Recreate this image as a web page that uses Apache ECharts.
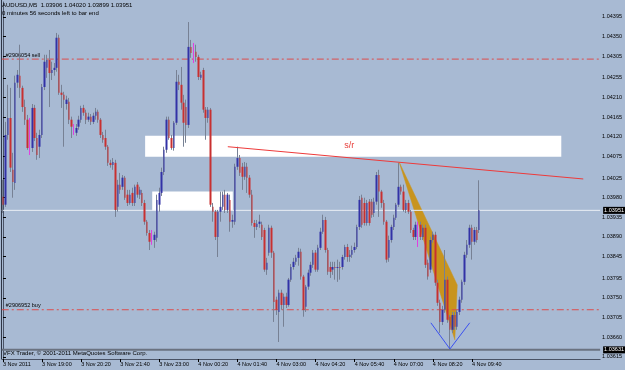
<!DOCTYPE html>
<html>
<head>
<meta charset="utf-8">
<title>AUDUSD,M5</title>
<script src="https://cdn.jsdelivr.net/npm/echarts@6/dist/echarts.min.js"></script>
<style>
    html, body { margin: 0; padding: 0; background: #a8bad3; }
    #main { width: 625px; height: 370px; }
</style>
</head>
<body>
<div id="main"></div>
<script>
// AUDUSD M5 - MetaTrader style chart

var symbolTitle = 'AUDUSD,M5  1.03906 1.04020 1.03899 1.03951';
var timerText = '0 minutes 56 seconds left to bar end';
var copyrightText = 'VFX Trader, \u00a9 2001-2011 MetaQuotes Software Corp.';

// time axis: one label every 16 bars (80 min)
var xTickLabels = ['3 Nov 2011', '3 Nov 19:00', '3 Nov 20:20', '3 Nov 21:40', '3 Nov 23:00',
    '4 Nov 00:20', '4 Nov 01:40', '4 Nov 03:00', '4 Nov 04:20', '4 Nov 05:40',
    '4 Nov 07:00', '4 Nov 08:20', '4 Nov 09:40'];
var barsPerLabel = 16;
var totalSlots = 245; // bars + empty chart shift on the right

// price scale labels
var yTickValues = [1.04395, 1.04350, 1.04305, 1.04255, 1.04210, 1.04165, 1.04120, 1.04075, 1.04025,
    1.03980, 1.03935, 1.03890, 1.03845, 1.03795, 1.03750, 1.03705, 1.03660, 1.03615];
var yMin = 1.03610;
var yMax = 1.04429;

// OHLC, 3 Nov 17:40 .. 4 Nov 09:55
var opens = [
    1.03982, 1.03964, 1.04124, 1.04163, 1.04044, 1.04014, 1.04244, 1.04260, 1.04232, 1.04188,
    1.04159, 1.04099, 1.04094, 1.04186, 1.04117, 1.04097, 1.04124, 1.04234, 1.04278, 1.04296,
    1.04266, 1.04273, 1.04278, 1.04347, 1.04221, 1.04216, 1.04195, 1.04200, 1.04159, 1.04136,
    1.04129, 1.04143, 1.04159, 1.04186, 1.04175, 1.04159, 1.04166, 1.04154, 1.04168, 1.04177,
    1.04159, 1.04124, 1.04117, 1.04097, 1.04060, 1.04055, 1.04060, 1.03959, 1.04010, 1.04005,
    1.04026, 1.03987, 1.03968, 1.03991, 1.03968, 1.04010, 1.03987, 1.03991, 1.03968, 1.03925,
    1.03899, 1.03888, 1.03883, 1.03888, 1.03964, 1.03991, 1.04039, 1.04090, 1.04159, 1.04117,
    1.04094, 1.04152, 1.04246, 1.04239, 1.04198, 1.04188, 1.04147, 1.04326, 1.04319, 1.04315,
    1.04303, 1.04255, 1.04273, 1.04182, 1.04163, 1.04182, 1.03959, 1.03948, 1.03890, 1.03948,
    1.03959, 1.03987, 1.03952, 1.03975, 1.03925, 1.03925, 1.04051, 1.04071, 1.04051, 1.04028,
    1.04051, 1.04026, 1.03987, 1.03922, 1.03913, 1.03920, 1.03918, 1.03906, 1.03815, 1.03854,
    1.03911, 1.03854, 1.03746, 1.03718, 1.03762, 1.03734, 1.03753, 1.03734, 1.03792, 1.03821,
    1.03833, 1.03842, 1.03856, 1.03799, 1.03730, 1.03776, 1.03808, 1.03826, 1.03854, 1.03815,
    1.03865, 1.03902, 1.03929, 1.03860, 1.03821, 1.03815, 1.03821, 1.03819, 1.03821, 1.03821,
    1.03844, 1.03867, 1.03844, 1.03849, 1.03860, 1.03867, 1.03913, 1.03980, 1.03968, 1.03922,
    1.03971, 1.03971, 1.03945, 1.03971, 1.04032, 1.03994, 1.03968, 1.03925, 1.03842, 1.03883,
    1.03913, 1.03934, 1.03964, 1.04005, 1.03994, 1.03952, 1.03968, 1.03948, 1.03906, 1.03890,
    1.03902, 1.03918, 1.03890, 1.03911, 1.03831, 1.03815, 1.03883, 1.03895, 1.03785, 1.03739,
    1.03695, 1.03723, 1.03792, 1.03707, 1.03677, 1.03711, 1.03684, 1.03718, 1.03746, 1.03787,
    1.03849, 1.03872, 1.03911, 1.03879, 1.03906, 1.03906
];
var closes = [
    1.03964, 1.04124, 1.04163, 1.04049, 1.04016, 1.04244, 1.04262, 1.04232, 1.04188, 1.04159,
    1.04094, 1.04099, 1.04186, 1.04117, 1.04078, 1.04124, 1.04234, 1.04292, 1.04296, 1.04266,
    1.04273, 1.04278, 1.04347, 1.04221, 1.04216, 1.04205, 1.04205, 1.04159, 1.04143, 1.04136,
    1.04140, 1.04159, 1.04186, 1.04175, 1.04159, 1.04166, 1.04154, 1.04168, 1.04177, 1.04159,
    1.04124, 1.04113, 1.04097, 1.04060, 1.04055, 1.04062, 1.03952, 1.04010, 1.03998, 1.04026,
    1.03980, 1.03968, 1.03987, 1.03968, 1.04005, 1.03987, 1.03998, 1.03968, 1.03925, 1.03899,
    1.03879, 1.03888, 1.03895, 1.03975, 1.03991, 1.04039, 1.04090, 1.04159, 1.04117, 1.04094,
    1.04152, 1.04246, 1.04239, 1.04198, 1.04152, 1.04147, 1.04326, 1.04312, 1.04319, 1.04303,
    1.04257, 1.04262, 1.04182, 1.04163, 1.04182, 1.03964, 1.03948, 1.03890, 1.03948, 1.03959,
    1.03987, 1.03952, 1.03987, 1.03925, 1.03929, 1.04051, 1.04071, 1.04037, 1.04028, 1.04051,
    1.04026, 1.03987, 1.03922, 1.03913, 1.03920, 1.03925, 1.03890, 1.03815, 1.03831, 1.03911,
    1.03854, 1.03741, 1.03723, 1.03762, 1.03734, 1.03753, 1.03734, 1.03792, 1.03821, 1.03833,
    1.03842, 1.03856, 1.03799, 1.03723, 1.03776, 1.03808, 1.03826, 1.03854, 1.03815, 1.03865,
    1.03902, 1.03929, 1.03860, 1.03810, 1.03810, 1.03821, 1.03819, 1.03821, 1.03819, 1.03844,
    1.03867, 1.03844, 1.03849, 1.03860, 1.03867, 1.03913, 1.03975, 1.03918, 1.03922, 1.03968,
    1.03922, 1.03941, 1.03971, 1.04032, 1.03994, 1.03968, 1.03925, 1.03838, 1.03883, 1.03913,
    1.03934, 1.03964, 1.04005, 1.03994, 1.03952, 1.03968, 1.03948, 1.03906, 1.03890, 1.03918,
    1.03902, 1.03890, 1.03911, 1.03826, 1.03799, 1.03883, 1.03895, 1.03785, 1.03739, 1.03695,
    1.03723, 1.03792, 1.03700, 1.03677, 1.03711, 1.03684, 1.03718, 1.03746, 1.03787, 1.03849,
    1.03872, 1.03911, 1.03879, 1.03906, 1.03883, 1.03951
];
var highs = [
    1.04021, 1.04154, 1.04239, 1.04232, 1.04083, 1.04260, 1.04273, 1.04331, 1.04237, 1.04205,
    1.04170, 1.04163, 1.04195, 1.04193, 1.04129, 1.04136, 1.04241, 1.04308, 1.04308, 1.04319,
    1.04292, 1.04289, 1.04358, 1.04354, 1.04239, 1.04223, 1.04214, 1.04209, 1.04166, 1.04149,
    1.04149, 1.04168, 1.04191, 1.04193, 1.04182, 1.04175, 1.04172, 1.04175, 1.04186, 1.04182,
    1.04163, 1.04131, 1.04136, 1.04101, 1.04067, 1.04071, 1.04067, 1.04021, 1.04037, 1.04032,
    1.04030, 1.03998, 1.03998, 1.04003, 1.04010, 1.04016, 1.04005, 1.03998, 1.03975, 1.03929,
    1.03906, 1.03906, 1.03902, 1.03987, 1.04003, 1.04049, 1.04097, 1.04166, 1.04166, 1.04124,
    1.04156, 1.04273, 1.04262, 1.04280, 1.04216, 1.04205, 1.04383, 1.04342, 1.04335, 1.04331,
    1.04308, 1.04269, 1.04278, 1.04188, 1.04188, 1.04186, 1.03968, 1.03952, 1.03952, 1.03994,
    1.03994, 1.03998, 1.03991, 1.03987, 1.03941, 1.04058, 1.04097, 1.04078, 1.04060, 1.04062,
    1.04060, 1.04032, 1.03998, 1.03929, 1.03929, 1.03941, 1.03925, 1.03911, 1.03842, 1.03918,
    1.03916, 1.03858, 1.03753, 1.03769, 1.03769, 1.03760, 1.03762, 1.03796, 1.03828, 1.03842,
    1.03849, 1.03865, 1.03863, 1.03803, 1.03780, 1.03815, 1.03833, 1.03860, 1.03860, 1.03872,
    1.03911, 1.03941, 1.03936, 1.03865, 1.03833, 1.03833, 1.03833, 1.03838, 1.03833, 1.03849,
    1.03872, 1.03874, 1.03860, 1.03870, 1.03877, 1.03918, 1.03984, 1.03987, 1.03980, 1.03975,
    1.03977, 1.03977, 1.03980, 1.04039, 1.04044, 1.03998, 1.03975, 1.03929, 1.03893, 1.03918,
    1.03941, 1.03968, 1.04060, 1.04010, 1.04010, 1.03975, 1.03975, 1.03952, 1.03911, 1.03925,
    1.03925, 1.03925, 1.03918, 1.03918, 1.03838, 1.03890, 1.03902, 1.03902, 1.03792, 1.03746,
    1.03732, 1.03860, 1.03799, 1.03711, 1.03718, 1.03718, 1.03723, 1.03753, 1.03792, 1.03856,
    1.03883, 1.03918, 1.03918, 1.03913, 1.03913, 1.04020
];
var lows = [
    1.03945, 1.03959, 1.04113, 1.04039, 1.03980, 1.03998, 1.04232, 1.04209, 1.04177, 1.04147,
    1.04090, 1.04078, 1.04085, 1.04110, 1.04067, 1.04071, 1.04117, 1.04227, 1.04255, 1.04188,
    1.04250, 1.04260, 1.04269, 1.04216, 1.04186, 1.04097, 1.04182, 1.04149, 1.04117, 1.04124,
    1.04122, 1.04136, 1.04152, 1.04168, 1.04149, 1.04154, 1.04147, 1.04149, 1.04159, 1.04152,
    1.04117, 1.04106, 1.04090, 1.04053, 1.04049, 1.04044, 1.03936, 1.03948, 1.03989, 1.03998,
    1.03975, 1.03961, 1.03964, 1.03961, 1.03961, 1.03980, 1.03977, 1.03961, 1.03918, 1.03893,
    1.03860, 1.03872, 1.03865, 1.03879, 1.03948, 1.03984, 1.04032, 1.04083, 1.04113, 1.04090,
    1.04088, 1.04147, 1.04227, 1.04182, 1.04097, 1.04106, 1.04140, 1.04301, 1.04289, 1.04292,
    1.04250, 1.04250, 1.04175, 1.04113, 1.04152, 1.03959, 1.03925, 1.03883, 1.03844, 1.03925,
    1.03952, 1.03945, 1.03945, 1.03902, 1.03911, 1.03918, 1.04044, 1.04030, 1.03998, 1.04021,
    1.03991, 1.03980, 1.03916, 1.03888, 1.03906, 1.03911, 1.03883, 1.03810, 1.03803, 1.03847,
    1.03842, 1.03695, 1.03711, 1.03649, 1.03723, 1.03684, 1.03727, 1.03730, 1.03787, 1.03815,
    1.03826, 1.03824, 1.03792, 1.03707, 1.03718, 1.03769, 1.03801, 1.03819, 1.03810, 1.03810,
    1.03860, 1.03897, 1.03854, 1.03803, 1.03796, 1.03803, 1.03792, 1.03787, 1.03792, 1.03815,
    1.03838, 1.03833, 1.03833, 1.03842, 1.03854, 1.03862, 1.03906, 1.03911, 1.03916, 1.03916,
    1.03916, 1.03934, 1.03936, 1.03964, 1.03936, 1.03957, 1.03918, 1.03831, 1.03833, 1.03877,
    1.03906, 1.03929, 1.03959, 1.03987, 1.03948, 1.03945, 1.03943, 1.03899, 1.03883, 1.03883,
    1.03867, 1.03883, 1.03883, 1.03819, 1.03792, 1.03808, 1.03877, 1.03778, 1.03732, 1.03670,
    1.03688, 1.03716, 1.03693, 1.03633, 1.03670, 1.03677, 1.03677, 1.03711, 1.03739, 1.03780,
    1.03842, 1.03865, 1.03838, 1.03872, 1.03877, 1.03899
];

// horizontal lines
var orderPrices = [1.04298, 1.03723];
var orderLabels = ['#2906054 sell', '#2906952 buy'];
var bidPrice = 1.03951;
var lowLinePrice = 1.03631;

// rectangles (bar index from/to, price top/bottom)
var zoneStart = [58.2, 61.1];
var zoneEnd = [228.6, 94.1];
var zoneTop = [1.04122, 1.03994];
var zoneBottom = [1.04074, 1.03950];

// s/r trend line
var trendX = [92.05, 237.6];
var trendY = [1.04097, 1.04023];
var trendText = 's/r';
var trendTextX = 141.8, trendTextY = 1.04099;

// triangle
var triX = [162.2, 186.0, 185.0];
var triY = [1.04062, 1.03780, 1.03654];

// V marker
var vX = [175.2, 183.0, 191.1];
var vY = [1.03693, 1.03633, 1.03693];

var fontName = 'Liberation Sans';
var wickColor = '#778194';
var upColor = '#3232a6';
var downColor = '#c83030';
var dojiColor = '#e040e0';

function pad(n) { return (n < 10 ? '0' : '') + n; }

var categories = [];
var startTime = Date.UTC(2011, 10, 3, 17, 40);
for (var i = 0; i < totalSlots; i++) {
    var d = new Date(startTime + i * 5 * 60000);
    categories.push(d.getUTCDate() + ' Nov ' + pad(d.getUTCHours()) + ':' + pad(d.getUTCMinutes()));
}

var candleData = opens.map(function (o, k) {
    var item = { value: [o, closes[k], lows[k], highs[k]] };
    if (o === closes[k]) {
        item.itemStyle = { color: dojiColor, color0: dojiColor, borderColor: dojiColor, borderColor0: dojiColor };
    }
    return item;
});
var bodyData = opens.map(function (o, k) {
    return [o, closes[k], Math.min(o, closes[k]), Math.max(o, closes[k])];
});

function showLabel(index) {
    return index % barsPerLabel === 0 && index / barsPerLabel < xTickLabels.length;
}

function renderZones(params, api) {
    return {
        type: 'group',
        children: zoneStart.map(function (s, k) {
            var p0 = api.coord([s, zoneTop[k]]);
            var p1 = api.coord([zoneEnd[k], zoneBottom[k]]);
            return {
                type: 'rect',
                shape: { x: p0[0], y: p0[1], width: p1[0] - p0[0], height: p1[1] - p0[1] },
                style: { fill: '#ffffff' }
            };
        })
    };
}

function renderTriangle(params, api) {
    var pts = triX.map(function (x, k) { return api.coord([x, triY[k]]); });
    return {
        type: 'polygon',
        shape: { points: pts },
        style: { fill: '#c8941e', stroke: '#c8941e', lineWidth: 0.5 }
    };
}

function hLine(api, price, style) {
    var a = api.coord([-0.5, price]);
    var b = api.coord([totalSlots - 0.5, price]);
    return { type: 'line', shape: { x1: a[0], y1: a[1], x2: b[0], y2: b[1] }, style: style };
}

function priceBox(api, price) {
    var b = api.coord([totalSlots - 0.5, price]);
    return {
        type: 'text', x: b[0] + 3, y: b[1],
        style: { text: price.toFixed(5), fill: '#fff', backgroundColor: '#000', padding: [1, 1, 0, 1],
                 font: '5.5px ' + fontName, verticalAlign: 'middle', textVerticalAlign: 'middle' }
    };
}

function renderLevels(params, api) {
    var children = [];
    orderPrices.forEach(function (p, k) {
        children.push(hLine(api, p, { stroke: '#dc4c4c', lineWidth: 1, lineDash: [7, 3, 2, 3] }));
        var a = api.coord([-0.5, p]);
        children.push({
            type: 'text', x: a[0] + 4, y: a[1] - 1,
            style: { text: orderLabels[k], fill: '#000', font: '5.5px ' + fontName,
                     verticalAlign: 'bottom', textVerticalAlign: 'bottom' }
        });
    });
    children.push(hLine(api, bidPrice, { stroke: '#e9eef5', lineWidth: 1 }));
    children.push(hLine(api, lowLinePrice, { stroke: '#6a7280', lineWidth: 2 }));
    return { type: 'group', children: children };
}

function renderObjects(params, api) {
    var t0 = api.coord([trendX[0], trendY[0]]);
    var t1 = api.coord([trendX[1], trendY[1]]);
    var vPts = vX.map(function (x, k) { return api.coord([x, vY[k]]); });
    var tp = api.coord([trendTextX, trendTextY]);
    return {
        type: 'group',
        children: [
            { type: 'line', shape: { x1: t0[0], y1: t0[1], x2: t1[0], y2: t1[1] },
              style: { stroke: '#ee3a3a', lineWidth: 1 } },
            { type: 'polyline', shape: { points: vPts },
              style: { stroke: '#3a50f0', lineWidth: 1, fill: null } },
            { type: 'text', x: tp[0], y: tp[1],
              style: { text: trendText, fill: '#e8403c', font: '9px ' + fontName,
                       align: 'center', verticalAlign: 'middle', textAlign: 'center', textVerticalAlign: 'middle' } },
            priceBox(api, bidPrice),
            priceBox(api, lowLinePrice)
        ]
    };
}

var chart = echarts.init(document.getElementById('main'), null, { renderer: 'canvas' });

var option = {
    animation: false,
    backgroundColor: '#a8bad3',
    textStyle: { fontFamily: fontName },
    title: {
        text: symbolTitle,
        subtext: timerText,
        left: 2,
        top: 2,
        padding: 0,
        itemGap: 2,
        textStyle: { fontSize: 6, fontWeight: 'normal', color: '#000', fontFamily: fontName },
        subtextStyle: { fontSize: 6, color: '#000', fontFamily: fontName }
    },
    graphic: [{
        type: 'text',
        left: 3,
        top: 350,
        style: { text: copyrightText, fill: '#000', font: '6px ' + fontName }
    }, {
        type: 'line',
        shape: { x1: 1.5, y1: 0, x2: 1.5, y2: 359 },
        style: { stroke: '#2f3646', lineWidth: 1 }
    }],
    grid: { left: 1, right: 23, top: 2, bottom: 11, show: false },
    xAxis: [{
        type: 'category',
        data: categories,
        boundaryGap: true,
        axisLine: { show: true, lineStyle: { color: '#4a5366', width: 1 } },
        axisTick: { show: true, length: 3, alignWithLabel: true, interval: showLabel, lineStyle: { color: '#000' } },
        axisLabel: {
            interval: showLabel,
            formatter: function (value, index) { return xTickLabels[index / barsPerLabel]; },
            align: 'left',
            margin: 2,
            fontSize: 5.5,
            color: '#000'
        },
        splitLine: { show: false }
    }, {
        type: 'value',
        min: -0.5,
        max: totalSlots - 0.5,
        show: false
    }],
    yAxis: {
        type: 'value',
        position: 'right',
        min: yMin,
        max: yMax,
        axisLine: { show: true, lineStyle: { color: '#4a5366', width: 1 } },
        axisTick: { show: true, length: 3, customValues: yTickValues, lineStyle: { color: '#000' } },
        axisLabel: {
            customValues: yTickValues,
            formatter: function (v) { return v.toFixed(5); },
            fontSize: 5.5,
            color: '#000',
            margin: 2
        },
        splitLine: { show: false }
    },
    series: [
        {
            type: 'custom', name: 'zones', xAxisIndex: 1, z: 1,
            renderItem: renderZones, data: [[0, yMin]], silent: true
        },
        {
            type: 'custom', name: 'triangle', xAxisIndex: 1, z: 1,
            renderItem: renderTriangle, data: [[0, yMin]], silent: true
        },
        {
            type: 'custom', name: 'levels', xAxisIndex: 1, z: 2,
            renderItem: renderLevels, data: [[0, yMin]], silent: true
        },
        {
            type: 'candlestick', name: 'AUDUSD wick', z: 3,
            data: candleData,
            barWidth: 1,
            itemStyle: { color: wickColor, color0: wickColor, borderColor: wickColor, borderColor0: wickColor, borderWidth: 1 }
        },
        {
            type: 'candlestick', name: 'AUDUSD body', z: 4,
            data: bodyData,
            barWidth: 2,
            itemStyle: { color: upColor, color0: downColor, borderColor: upColor, borderColor0: downColor, borderWidth: 0 }
        },
        {
            type: 'custom', name: 'objects', xAxisIndex: 1, z: 6,
            renderItem: renderObjects, data: [[0, yMin]], silent: true
        }
    ]
};

chart.setOption(option);
</script>
</body>
</html>
